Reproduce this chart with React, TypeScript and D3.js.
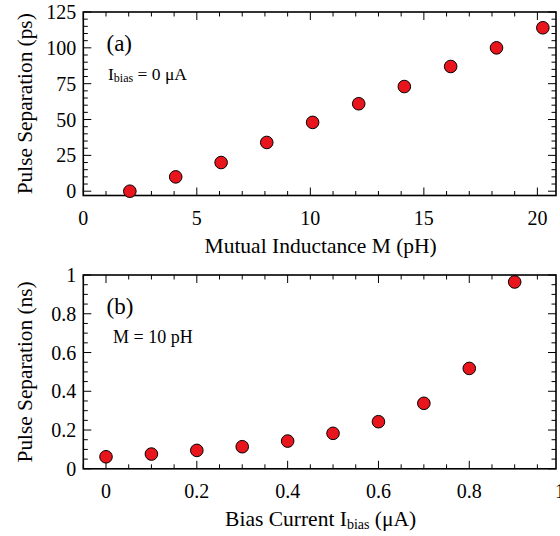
import React from "react";
import * as d3 from "d3";

const mutualInductance = [2.05, 4.07, 6.07, 8.08, 10.1, 12.13, 14.14, 16.18, 18.2, 20.24];
const separationPs = [0, 10, 20, 34, 48, 61, 73, 87, 100, 114];
const biasCurrent = [0, 0.1, 0.2, 0.3, 0.4, 0.5, 0.6, 0.7, 0.8, 0.9];
const separationNs = [0.062, 0.076, 0.095, 0.114, 0.143, 0.183, 0.243, 0.338, 0.518, 0.964];

const xTicksA = [0, 5, 10, 15, 20];
const yTicksA = [0, 25, 50, 75, 100, 125];
const xTicksB = [0, 0.2, 0.4, 0.6, 0.8, 1];
const yTicksB = [0, 0.2, 0.4, 0.6, 0.8, 1];

const FONT = "'Liberation Serif', 'Times New Roman', serif";
const L = 83.3;
const R = 556;

type PanelProps = {
  top: number;
  bottom: number;
  xDomain: [number, number];
  yDomain: [number, number];
  xs: number[];
  ys: number[];
  xTicks: number[];
  yTicks: number[];
  xMinor: number[];
  yMinor: number[];
  xTitle: React.ReactNode;
  yTitle: string;
  label: string;
  note: React.ReactNode;
  noteX: number;
  noteSize: number;
};

function range(a: number, b: number, s: number) {
  const out: number[] = [];
  for (let v = a; v <= b + 1e-9; v += s) out.push(+v.toFixed(6));
  return out;
}

function Panel(p: PanelProps) {
  const x = d3.scaleLinear().domain(p.xDomain).range([L, R]);
  const y = d3.scaleLinear().domain(p.yDomain).range([p.bottom, p.top]);
  const inX = (v: number) => v >= p.xDomain[0] - 1e-9 && v <= p.xDomain[1] + 1e-9;
  const inY = (v: number) => v >= p.yDomain[0] - 1e-9 && v <= p.yDomain[1] + 1e-9;
  const major = 8;
  const minor = 4.5;
  const isMajorX = (v: number) => p.xTicks.some((t) => Math.abs(t - v) < 1e-6);
  const isMajorY = (v: number) => p.yTicks.some((t) => Math.abs(t - v) < 1e-6);
  return (
    <g>
      {p.xMinor.filter(inX).map((v, i) => {
        const len = isMajorX(v) ? major : minor;
        return (
          <g key={"xt" + i} stroke="#000" strokeWidth={1}>
            <line x1={x(v)} x2={x(v)} y1={p.bottom} y2={p.bottom - len} />
            <line x1={x(v)} x2={x(v)} y1={p.top} y2={p.top + len} />
          </g>
        );
      })}
      {p.yMinor.filter(inY).map((v, i) => {
        const len = isMajorY(v) ? major : minor;
        return (
          <g key={"yt" + i} stroke="#000" strokeWidth={1}>
            <line x1={L} x2={L + len} y1={y(v)} y2={y(v)} />
            <line x1={R} x2={R - len} y1={y(v)} y2={y(v)} />
          </g>
        );
      })}
      <rect x={L} y={p.top} width={R - L} height={p.bottom - p.top} fill="none" stroke="#000" strokeWidth={1.6} />
      {p.xTicks.map((v, i) => (
        <text key={"xl" + i} x={x(v)} y={p.bottom + 29} textAnchor="middle" fontSize={20} fontFamily={FONT}>
          {String(v)}
        </text>
      ))}
      {p.yTicks.map((v, i) => (
        <text key={"yl" + i} x={L - 7} y={y(v)} dy="0.35em" textAnchor="end" fontSize={20} fontFamily={FONT}>
          {String(v)}
        </text>
      ))}
      <text x={(L + R) / 2 + 1} y={p.bottom + 57} textAnchor="middle" fontSize={21.5} fontFamily={FONT}>
        {p.xTitle}
      </text>
      <text
        transform={`translate(32,${(p.top + p.bottom) / 2}) rotate(-90)`}
        textAnchor="middle"
        fontSize={21.3}
        fontFamily={FONT}
      >
        {p.yTitle}
      </text>
      <text x={106.5} y={p.top + 39} fontSize={23} fontFamily={FONT}>
        {p.label}
      </text>
      <text x={p.noteX} y={p.top + 68} fontSize={p.noteSize} fontFamily={FONT}>
        {p.note}
      </text>
      {p.xs.map((v, i) => (
        <circle key={"c" + i} cx={x(v)} cy={y(p.ys[i])} r={6.3} fill="#e8161c" stroke="#000" strokeWidth={1} />
      ))}
    </g>
  );
}

export default function App() {
  return (
    <svg width={560} height={536} style={{ position: "absolute", left: 0, top: 0 }}>
      <rect width={560} height={536} fill="#fff" />
      <Panel
        top={12}
        bottom={195.5}
        xDomain={[0, 20.82]}
        yDomain={[-3, 125]}
        xs={mutualInductance}
        ys={separationPs}
        xTicks={xTicksA}
        yTicks={yTicksA}
        xMinor={range(0, 21, 1)}
        yMinor={range(0, 125, 5)}
        xTitle="Mutual Inductance M (pH)"
        yTitle="Pulse Separation (ps)"
        label="(a)"
        note={
          <>
            I<tspan fontSize={12} dy={2}>bias</tspan>
            <tspan dy={-2}> = 0 μA</tspan>
          </>
        }
        noteX={108}
        noteSize={17.5}
      />
      <Panel
        top={275}
        bottom={468.8}
        xDomain={[-0.05, 0.991]}
        yDomain={[0, 1]}
        xs={biasCurrent}
        ys={separationNs}
        xTicks={xTicksB}
        yTicks={yTicksB}
        xMinor={range(-0.05, 1, 0.05)}
        yMinor={range(0, 1, 0.05)}
        xTitle={
          <>
            Bias Current I<tspan fontSize={14} dy={3}>bias</tspan>
            <tspan dy={-3}> (μA)</tspan>
          </>
        }
        yTitle="Pulse Separation (ns)"
        label="(b)"
        note="M = 10 pH"
        noteX={113}
        noteSize={18}
      />
    </svg>
  );
}
